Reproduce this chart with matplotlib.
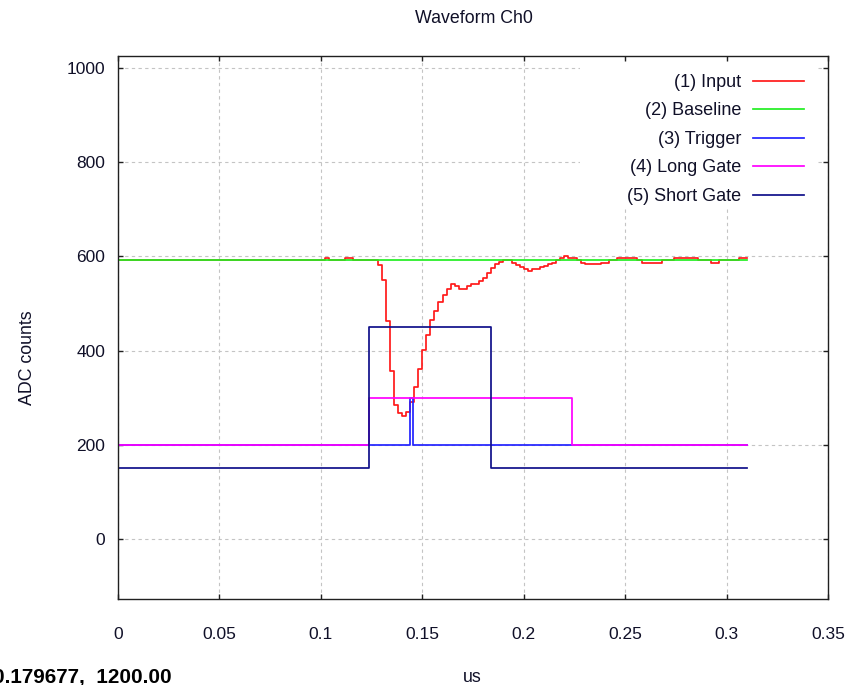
import numpy as np
import matplotlib
matplotlib.use("Agg")
import matplotlib.pyplot as plt
from matplotlib.patches import Rectangle

plt.rcParams['font.family'] = ['Liberation Sans', 'DejaVu Sans']

# ---- data ----
sample_period_us = 0.002
input_values = [
    592, 592, 592, 592, 592, 592, 592, 592, 592, 592,
    592, 592, 592, 592, 592, 592, 592, 592, 592, 592,
    592, 592, 592, 592, 592, 592, 592, 592, 592, 592,
    592, 592, 592, 592, 592, 592, 592, 592, 592, 592,
    592, 592, 592, 592, 592, 592, 592, 592, 592, 592,
    592, 596, 592, 592, 592, 592, 596, 596, 592, 592,
    592, 592, 592, 592, 582, 549, 462, 357, 285, 268,
    261, 270, 290, 322, 360, 402, 434, 465, 485, 504,
    518, 531, 542, 538, 531, 531, 538, 542, 542, 548,
    555, 565, 575, 583, 589, 592, 592, 587, 582, 577,
    573, 570, 573, 573, 577, 580, 584, 587, 592, 596,
    602, 596, 596, 592, 586, 584, 584, 584, 584, 586,
    586, 592, 592, 596, 596, 596, 596, 596, 592, 587,
    587, 587, 587, 587, 592, 592, 592, 596, 596, 596,
    596, 596, 596, 592, 592, 592, 587, 587, 592, 592,
    592, 592, 592, 596, 596, 596,
]
baseline_t = [0.0, 0.310]
baseline_v = [592, 592]
trigger_t = [0.0, 0.1440, 0.1456, 0.310]
trigger_v = [200, 300, 200, 200]
long_gate_t = [0.0, 0.124, 0.2236, 0.310]
long_gate_v = [200, 300, 200, 200]
short_gate_t = [0.0, 0.124, 0.1841, 0.310]
short_gate_v = [150, 450, 150, 150]

labels = ["(1) Input", "(2) Baseline", "(3) Trigger", "(4) Long Gate", "(5) Short Gate"]
colors = ["#ff1a1a", "#22ee22", "#2222ff", "#ff00ff", "#10108a"]

x_ticks = [0, 0.05, 0.1, 0.15, 0.2, 0.25, 0.3, 0.35]
x_tick_labels = ["0", "0.05", "0.1", "0.15", "0.2", "0.25", "0.3", "0.35"]
y_ticks = [0, 200, 400, 600, 800, 1000]

W, H = 855, 685
fig = plt.figure(figsize=(W / 100, H / 100), dpi=100)
L, R, T, B = 117.7, 828.3, 55.7, 599.0
ax = fig.add_axes([L / W, (H - B) / H, (R - L) / W, (B - T) / H])

input_t = np.arange(len(input_values)) * sample_period_us
lw = 1.25
ax.step(input_t, input_values, where='post', color=colors[0], lw=lw, label=labels[0], zorder=2)
ax.step(baseline_t, baseline_v, where='post', color=colors[1], lw=lw, label=labels[1], zorder=2.1)
ax.step(trigger_t, trigger_v, where='post', color=colors[2], lw=lw, label=labels[2], zorder=2.2)
ax.step(long_gate_t, long_gate_v, where='post', color=colors[3], lw=lw, label=labels[3], zorder=2.3)
ax.step(short_gate_t, short_gate_v, where='post', color=colors[4], lw=lw, label=labels[4], zorder=2.4)

ax.set_xlim(0, 0.35)
ax.set_ylim(-127.4, 1026.3)
ax.set_xticks(x_ticks)
ax.set_xticklabels(x_tick_labels)
ax.set_yticks(y_ticks)

ax.set_axisbelow(True)
ax.grid(True, color='#c4c4c4', linestyle=(0, (3, 3)), linewidth=0.8)
for s in ax.spines.values():
    s.set_color('#202020')
    s.set_linewidth(1.0)
ax.tick_params(direction='in', length=3.6, width=1.0, color='#202020',
               top=True, right=True, labelsize=12.5, labelcolor='#101028')
ax.tick_params(axis='x', pad=20)
ax.tick_params(axis='y', pad=9)

# white key background (gnuplot key box)
kx0, kx1, ky0, ky1 = 580, 816, 207, 62
ax.add_patch(Rectangle(((kx0 - L) / (R - L), (B - ky0) / (B - T)),
                       (kx1 - kx0) / (R - L), (ky0 - ky1) / (B - T),
                       transform=ax.transAxes, facecolor='white', edgecolor='none', zorder=1.5))

leg = ax.legend(loc='upper right', bbox_to_anchor=((804.3 - L) / (R - L), (B - 74) / (B - T)),
                markerfirst=False, frameon=False, fontsize=13, handlelength=2.82,
                handletextpad=0.66, labelspacing=0.635, borderpad=0, borderaxespad=0)
for t in leg.get_texts():
    t.set_color('#101028')
leg.set_zorder(5)

fig.text(474 / W, 1 - 22.7 / H, "Waveform Ch0", ha='center', va='baseline', fontsize=12.8, color='#101028')
fig.text(472.7 / W, 1 - 682 / H, "us", ha='center', va='baseline', fontsize=12.8, color='#101028')
fig.text(27.5 / W, 327.5 / H, "ADC counts", rotation=90, ha='center', va='center', fontsize=12.8, color='#101028')
fig.text(-7 / W, 1 - 682.7 / H, "0.179677,  1200.00", ha='left', va='baseline', fontsize=14.9,
         fontweight='bold', color='#000000')

fig.savefig("out.png", dpi=100)
